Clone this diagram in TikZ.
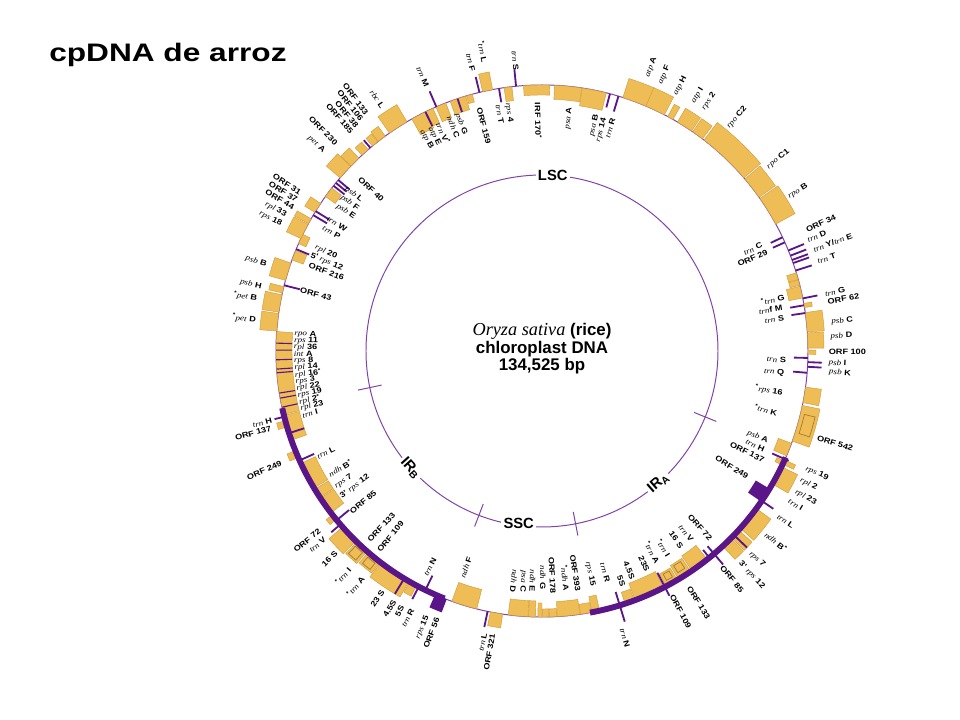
\documentclass[tikz,border=0pt]{standalone}
\usepackage{fontspec}
\setmainfont{Liberation Sans}
\newfontfamily\genefont{Liberation Serif}[FakeStretch=1.18]
\newfontfamily\labelfont{Liberation Sans}[FakeStretch=1.18]
\newfontfamily\titlefont{Liberation Sans}[FakeStretch=1.25]
\newfontfamily\speciesfont{Liberation Serif}
\definecolor{genegold}{HTML}{EEBD55}
\definecolor{geneedge}{HTML}{D09A3C}
\definecolor{dnapurple}{HTML}{5A1688}
\definecolor{ringpurple}{HTML}{7E42A8}
\newcommand\gi[1]{{\genefont\mdseries\itshape #1}}
\newcommand\st{\textsuperscript{*}}
\tikzset{
  ring/.style       = {draw=ringpurple, line width=0.7pt},
  irline/.style     = {draw=dnapurple, line width=4.2pt},
  trna/.style       = {draw=dnapurple, line width=1.3pt},
  stripe/.style     = {draw=dnapurple, line width=0.8pt},
  genebox/.style    = {fill=genegold, draw=geneedge, line width=0.3pt},
  intron/.style     = {draw=geneedge!80!black, line width=0.5pt},
  orfblock/.style   = {fill=dnapurple},
  lab/.style        = {inner sep=0.4pt, font=\labelfont\bfseries\fontsize{5.5}{6}\selectfont},
  region/.style     = {fill=white, inner sep=1.5pt,
                       font=\fontsize{10.5}{12}\selectfont\bfseries},
  centretext/.style = {align=center, font=\fontsize{12}{12.5}\selectfont\bfseries},
  titletext/.style  = {inner sep=0pt, font=\titlefont\bfseries\fontsize{18}{20}\selectfont},
}
% label on the outer ring: name, angle, radius, text
\newcommand\genelabel[4]{%
  \pgfmathtruncatemacro\flip{(cos(#2)<0)&&((#3>266)||(sin(#2)>0)||(cos(#2)<-0.2))}%
  \ifnum\flip=1 \pgfmathsetmacro\rot{#2-180}\else\pgfmathsetmacro\rot{#2}\fi
  \ifdim #3pt>266pt
    \ifnum\flip=1 \def\anc{east}\else\def\anc{west}\fi
  \else
    \ifnum\flip=1 \def\anc{west}\else\def\anc{east}\fi
  \fi
  \node[lab, rotate=\rot, anchor=\anc] (#1) at (#2:#3) {#4};
}

\begin{document}
\begin{tikzpicture}[x=0.025cm, y=0.025cm]
  \useasboundingbox (-542,-369) rectangle (418,351);

  \node[titletext, anchor=base west] (title) at (-493,289) {cpDNA de arroz};

  % inner ring: regions of the genome
  \draw[ring] (0,0) circle[radius=176];
  \foreach \a in {192,249,281,338}
    \draw[ring] (\a:164) -- (\a:188);
  \node[region] (lsc) at (86.5:176) {LSC};
  \node[region, rotate=-48] (irb) at (221.8:176) {IR\textsubscript{B}};
  \node[region] (ssc) at (262.3:174) {SSC};
  \node[region, rotate=41] (ira) at (311.4:176) {IR\textsubscript{A}};
  \node[centretext] (centre) at (0,2)
    {{\speciesfont\mdseries\itshape\fontsize{13}{12.5}\selectfont Oryza sativa} (rice)\\
     chloroplast DNA\\
     134,525 bp};

  % outer ring and genes
  \draw[ring] (0,0) circle[radius=266];
  \foreach \a/\b/\h in {88.3/94/-10, 81.4/87.3/-14, 76/81.3/-18, 66.8/72.3/20,
      62.6/67/20, 60.5/61.8/14, 55.8/59.4/16, 52.9/55.5/16, 40.6/52.5/22,
      35.3/40.3/20, 28.5/35/22, 15.6/17.1/-10, 14.3/15.5/-10, 11.5/14.1/-14,
      9.4/10.3/8, 4.1/8.3/17, 0.6/3.9/16, -0.7/0.2/8, -11.2/-7.8/16,
      -19.8/-11.8/18, -23.2/-20.3/-14, -25.2/-24.2/12, -25.4/-24.4/-8,
      -30/-25.8/18, -41.8/-36.3/18, -44.6/-42.3/18, -47.2/-44.8/18,
      290.5/297.2/-18, 288.2/290.3/-12, 297.8/300.6/-14, 300.9/304/-16,
      304.3/308.4/-18, 262.7/267/-16, 267.1/268.6/-16, 269.1/270/-14,
      270.1/271.5/-8, 271.6/273.2/-8, 273.3/278.2/-15, 278.3/280.7/-10,
      280.8/282.5/-16, 250.2/255.8/-20, 258.8/261.5/14,
      194/199.6/-16, 195.2/196.6/9, 202/203.6/9, 205/211/-16, 211.3/213.4/-16,
      213.6/217.5/-16, 218/219.3/8, 221.4/225.6/18, 225.9/228.9/16,
      229.2/232.5/14, 232.7/240/18, 240.2/241.9/12,
      175.8/193.8/-16, 171.9/175.7/17, 167.8/171.6/17, 166/167.4/14,
      160.7/164.6/17, 157.8/160/-12, 154/156.2/-8, 151.6/155/16,
      150.2/151.4/16, 146.3/148.6/12, 142.2/144.5/-12,
      136/139.4/18, 133.5/135.9/14, 130.8/132.6/10, 128.1/129.6/10,
      126.1/128/12, 120.5/125/20, 115.9/119.3/-18, 114.2/115.8/-16,
      111.2/113.5/-16, 108.5/110.2/-14, 106.7/108.4/-14, 105.2/106.5/-8,
      100.7/102.9/18, 96.5/98.2/-14}
    \filldraw[genebox] (\a:266) arc[start angle=\a, end angle=\b, radius=266]
      -- (\b:266+\h) arc[start angle=\b, end angle=\a, radius=266+\h] -- cycle;

  % introns drawn inside the boxes
  \foreach \a/\b/\p/\q in {226.3/228.3/270/280, 229.8/231.8/270/278,
      301.5/303.3/252/260, 298.5/300/254/261, -17.8/-13.6/270/281}
    \draw[intron] (\a:\p) arc[start angle=\a, end angle=\b, radius=\p]
      -- (\b:\q) arc[start angle=\b, end angle=\a, radius=\q] -- cycle;

  % inverted repeats
  \draw[irline] (192.4:266) arc[start angle=192.4, end angle=248.5, radius=266];
  \draw[irline] (280.4:266) arc[start angle=280.4, end angle=336.4, radius=266];
  \fill[orfblock] (325.5:250) arc[start angle=325.5, end angle=328.8, radius=250]
    -- (328.8:266) arc[start angle=328.8, end angle=325.5, radius=266] -- cycle;
  \fill[orfblock] (246.3:266) arc[start angle=246.3, end angle=249, radius=266]
    -- (249:280) arc[start angle=249, end angle=246.3, radius=280] -- cycle;

  % tRNAs and short ORFs
  \foreach \a/\p/\q in {95.6/266/283, 99.3/252/266, 103.6/266/282,
      113.4/266/283, 116/250/266, 108.5/252/266, 130.2/266/276, 140/252/266,
      140.8/252/266, 141.6/252/266, 148.3/250/266, 149.3/250/266,
      157.5/252/266, 165.7/250/266, 194.3/266/276, 198/250/266, 204.3/250/266,
      219.5/250/266, 220.7/266/278, 238.8/266/284, 242.4/266/280, 244/250/266,
      258.2/266/282, 287/252/283, 297.5/250/276, 309/256/266, 310.3/256/280,
      316.2/266/284, 325.7/266/280, 336/252/270, 355.3/252/266, 356.6/266/280,
      357.6/266/280, 358.5/252/266, 8.2/252/266, 9.9/252/266, 11.4/266/281,
      17.6/266/283, 19.3/266/283, 20/266/283, 21/266/283, 22.2/266/283,
      24.1/253/266, 25.3/253/266, 73.3/250/266, 75.2/252/266}
    \draw[trna] (\a:\p) -- (\a:\q);
  \foreach \a in {178.3,179.8,181.9,183.9,184.7,189.1,190.2,192.2}
    \draw[stripe] (\a:250) -- (\a:266);

  % names outside the ring
  \foreach \a/\r/\t [count=\i] in {95.3/281/{\gi{trn} S},
      101.2/293/{\st\gi{trn} L}, 103.9/287/{\gi{trn} F}, 113.5/288/{\gi{trn} M},
      123.2/290/{\gi{rbc} L}, 126.5/294/{ORF 133}, 128/292/{ORF 106},
      129.5/290/{ORF 38}, 131/289/{ORF 185}, 134.8/291/{ORF 230},
      137.5/295/{\gi{pet} A}, 146.8/288/{ORF 31}, 148.4/287/{ORF 37},
      150/286/{ORF 44}, 152/289/{\gi{rpl} 33}, 154/289/{\gi{rps} 18},
      162.6/288/{\gi{psb} B}, 167.1/287/{\gi{psb} H}, 169.6/289/{\st\gi{pet} B},
      173.8/287/{\st\gi{pet} D}, 194.4/278/{\gi{trn} H}, 195.9/281/{ORF 137},
      203.3/283/{ORF 249}, 218.9/285/{ORF 72}, 220.8/286/{\gi{trn} V},
      224.4/287/{16 S}, 228.5/290/{\st\gi{trn} I}, 231.6/288/{\st\gi{trn} A},
      236.4/287/{23 S}, 239.4/289/{4.5S}, 241.3/290/{5S}, 243.3/288/{\gi{trn} R},
      246.6/288/{\gi{rps} 15}, 248.6/286/{ORF 56}, 258.5/287/{\gi{trn} L},
      260.1/286/{ORF 321}, 286.1/288/{\gi{trn} N}, 298/276/{ORF 109},
      301.9/277/{ORF 133}, 309.8/280/{ORF 85}, 313.1/289/{3' \gi{rps} 12},
      315.9/289/{\gi{rps} 7}, 320.8/288/{\gi{ndh} B\st}, 325/287/{\gi{trn} L},
      328.8/288/{\gi{trn} I}, 331/289/{\gi{rpl} 23}, 333.5/288/{\gi{rpl} 2},
      336/288/{\gi{rps} 19}, 342.5/288/{ORF 542}, -4.2/287/{\gi{psb} K},
      -2.4/286/{\gi{psb} I}, -0.2/286/{ORF 100}, 2.8/288/{\gi{psb} D},
      5.7/290/{\gi{psb} C}, 9.8/289/{ORF 62}, 11.4/288/{\gi{trn} G},
      18/289/{\gi{trn} T}, 20.4/289/{\gi{trn} Y/\gi{trn} E},
      22.6/287/{\gi{trn} D}, 24.6/290/{ORF 34}, 32/290/{\gi{rpo} B},
      39.1/290/{\gi{rpo} C1}, 50.2/290/{\gi{rpo} C2}, 56.3/290/{\gi{rps} 2},
      58.7/290/{\gi{atp} I}, 62.5/288/{\gi{atp} H}, 66.1/291/{\gi{atp} F},
      69/293/{\gi{atp} A}}
    {\genelabel{out\i}{\a}{\r}{\t}}

  % names inside the ring
  \foreach \a/\r/\t [count=\i] in {90.9/249/{IRF 170\st},
      97.9/251/{\gi{rps} 4}, 100.1/251/{\gi{trn} T}, 104.5/252/{ORF 159},
      109.6/253/{\gi{psb} G}, 111.6/253/{\gi{ndh} C}, 114.4/251/{\gi{trn} V\st},
      116.6/251/{\gi{atp} E}, 118.6/252/{\gi{atp} B}, 136.6/252/{ORF 40},
      140.2/256/{\gi{psb} L}, 142.4/254/{\gi{psb} F}, 144.6/252/{\gi{psb} E},
      148.2/253/{\gi{trn} W}, 150.6/252/{\gi{trn} P}, 155.4/250/{\gi{rpl} 20},
      157.5/251/{5' \gi{rps} 12}, 159.8/249/{ORF 216}, 165.9/250/{ORF 43},
      175.9/249/{\gi{rpo} A}, 177.5/249/{\gi{rps} 11}, 179.1/249/{\gi{rpl} 36},
      180.7/249/{\gi{int} A}, 182.3/249/{\gi{rps} 8}, 183.9/249/{\gi{rpl} 14},
      185.5/249/{\gi{rpl} 16\st}, 187.1/249/{\gi{rps} 3}, 188.7/249/{\gi{rpl} 22},
      190.3/249/{\gi{rps} 19}, 191.9/249/{\gi{rpl} 2\st}, 193.5/249/{\gi{rpl} 23},
      195.1/249/{\gi{trn} I}, 205.2/249/{\gi{trn} L}, 210.1/247/{\gi{ndh} B\st},
      213.3/248/{\gi{rps} 7}, 215.9/249/{3' \gi{rps} 12}, 220.2/251/{ORF 85},
      227.7/258/{ORF 133}, 230.8/259/{ORF 109}, 242.6/254/{\gi{trn} N},
      250.7/241/{\gi{ndh} F}, 263/244/{\gi{ndh} D}, 265.3/243/{\gi{psa} C},
      267.6/242/{\gi{ndh} E}, 270.2/239/{\gi{ndh} G}, 272.6/244/{ORF 178},
      275.9/242/{\st\gi{ndh} A}, 278.5/244/{ORF 393}, 282.2/241/{\gi{rps} 15},
      285.9/241/{\gi{trn} R}, 289/250/{5S}, 291.7/246/{4.5S}, 295.6/245/{23S},
      298.7/242/{\st\gi{trn} A}, 301.7/242/{\st\gi{trn} I}, 305.4/242/{16 S},
      308.3/243/{\gi{trn} V}, 311.8/254/{ORF 72}, 328.5/242/{ORF 249},
      333.8/248/{ORF 137}, 336.1/244/{\gi{trn} H}, 338.2/244/{\gi{psb} A},
      345.3/244/{\st\gi{trn} K}, 350.1/245/{\st\gi{rps} 16},
      354.8/244/{\gi{trn} Q}, 357.9/245/{\gi{trn} S}, 7.7/245/{\gi{trn} S},
      10.2/245/{\gi{trn}f M}, 12.5/249/{\st\gi{trn} G}, 23.8/247/{ORF 29},
      25.8/245/{\gi{trn} C}, 73/244/{\gi{trn} R}, 75/242/{\gi{rps} 14},
      77/243/{\gi{psa} B}, 83.5/246/{\gi{psa} A}}
    {\genelabel{in\i}{\a}{\r}{\t}}
\end{tikzpicture}
\end{document}
